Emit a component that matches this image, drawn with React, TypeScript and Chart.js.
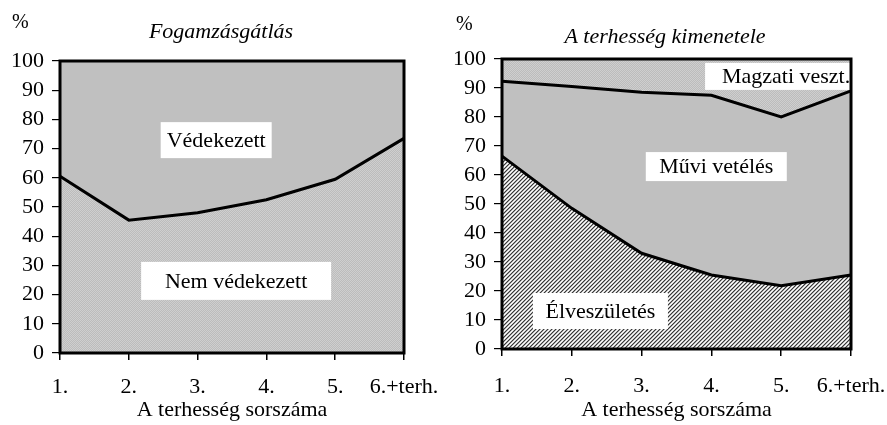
import React, { useEffect, useRef } from "react";
import { Chart, registerables } from "chart.js";

Chart.register(...registerables);

// ---------- data ----------
const categories = ["1.", "2.", "3.", "4.", "5.", "6.+terh."];
const yTicks = [0, 10, 20, 30, 40, 50, 60, 70, 80, 90, 100];

// Left chart: Fogamzásgátlás (%)
const nemVedekezett = [60.5, 45.5, 48, 52.5, 59.5, 73.5];
const vedekezett = [39.5, 54.5, 52, 47.5, 40.5, 26.5];

// Right chart: A terhesség kimenetele (%)
const elveszuletes = [66.5, 48.5, 33, 25.5, 21.8, 25.5];
const muviVeteles = [25.8, 42, 55.5, 62, 58.2, 63.5];
const magzatiVeszt = [7.7, 9.5, 11.5, 12.5, 20, 11];

const FONT = "'Liberation Serif', 'Times New Roman', serif";
const FS = 22;

function makePattern(kind: "dots" | "hatch"): CanvasPattern | string {
  const c = document.createElement("canvas");
  c.width = 4;
  c.height = 4;
  const g = c.getContext("2d");
  if (!g) return "#c0c0c0";
  for (let x = 0; x < 4; x++) {
    for (let y = 0; y < 4; y++) {
      let col = "#c0c0c0";
      if (kind === "dots") {
        col = (x + y) % 2 === 0 ? "#cfcfcf" : "#bcbcbc";
      } else {
        const m = (x + y) % 4;
        col = m === 0 ? "#383838" : m === 1 ? "#a8a8a8" : m === 2 ? "#ffffff" : "#cccccc";
      }
      g.fillStyle = col;
      g.fillRect(x, y, 1, 1);
    }
  }
  const p = g.createPattern(c, "repeat");
  return p || "#c0c0c0";
}

type Note = { text: string; xi: number; yv: number; w: number; h: number };

function framePlugin(title: string, titleX: number, titleY: number, pctX: number, pctY: number, notes: Note[]) {
  return {
    id: "frameAndNotes",
    afterDatasetsDraw(chart: any) {
      const { ctx, chartArea, scales } = chart;
      ctx.save();
      ctx.beginPath();
      ctx.rect(chartArea.left, chartArea.top, chartArea.right - chartArea.left, chartArea.bottom - chartArea.top);
      ctx.clip();
      for (const n of notes) {
        const cx = scales.x.getPixelForValue(n.xi);
        const cy = scales.y.getPixelForValue(n.yv);
        ctx.fillStyle = "#ffffff";
        ctx.fillRect(cx - n.w / 2, cy - n.h / 2, n.w, n.h);
        ctx.fillStyle = "#000";
        ctx.font = `${FS}px ${FONT}`;
        ctx.textAlign = "center";
        ctx.textBaseline = "middle";
        ctx.fillText(n.text, cx, cy + 1);
      }
      ctx.restore();
      ctx.save();
      ctx.strokeStyle = "#000";
      ctx.lineWidth = 3;
      ctx.strokeRect(chartArea.left, chartArea.top, chartArea.right - chartArea.left, chartArea.bottom - chartArea.top);
      ctx.fillStyle = "#000";
      ctx.font = `italic ${FS}px ${FONT}`;
      ctx.textAlign = "center";
      ctx.textBaseline = "alphabetic";
      ctx.fillText(title, titleX, titleY);
      ctx.font = `20px ${FONT}`;
      ctx.textAlign = "left";
      ctx.fillText("%", pctX, pctY);
      ctx.restore();
    },
  };
}

function makeOptions(padTop: number, padRight: number, yWidth: number, xHeight: number, xPad: number) {
  return {
    responsive: false,
    animation: false as const,
    events: [],
    layout: { padding: { top: padTop, right: padRight, left: 0, bottom: 0 } },
    plugins: { legend: { display: false }, tooltip: { enabled: false }, title: { display: false } },
    elements: { point: { radius: 0 }, line: { tension: 0 } },
    scales: {
      x: {
        type: "category",
        offset: false,
        grid: { drawOnChartArea: false, drawTicks: true, tickLength: 7, color: "#000", lineWidth: 1.5 },
        border: { display: false },
        ticks: { color: "#000", font: { family: FONT, size: FS }, padding: xPad, maxRotation: 0, autoSkip: false },
        title: { display: true, text: "A terhesség sorszáma", color: "#000", font: { family: FONT, size: FS }, padding: { top: 0, bottom: 2 } },
        afterFit: (s: any) => {
          s.height = xHeight;
          s.paddingLeft = 0;
          s.paddingRight = 0;
        },
      },
      y: {
        stacked: true,
        min: 0,
        max: 100,
        afterBuildTicks: (s: any) => {
          s.ticks = yTicks.map((v) => ({ value: v }));
        },
        grid: { drawOnChartArea: false, drawTicks: true, tickLength: 8, color: "#000", lineWidth: 1.2 },
        border: { display: false },
        ticks: { color: "#000", font: { family: FONT, size: FS }, padding: 8, autoSkip: false },
        afterFit: (s: any) => {
          s.width = yWidth;
          s.paddingTop = 0;
          s.paddingBottom = 0;
        },
      },
    },
  };
}

function LeftChart() {
  const ref = useRef<HTMLCanvasElement | null>(null);
  useEffect(() => {
    if (!ref.current) return;
    const dots = makePattern("dots");
    const chart = new Chart(ref.current, {
      type: "line",
      data: {
        labels: categories,
        datasets: [
          { label: "Nem védekezett", data: nemVedekezett, borderColor: "#000", borderWidth: 3, backgroundColor: dots as any, fill: "origin" },
          { label: "Védekezett", data: vedekezett, borderColor: "rgba(0,0,0,0)", borderWidth: 0, backgroundColor: "#c0c0c0", fill: "-1" },
        ],
      },
      options: makeOptions(61, 36, 60, 72, 14) as any,
      plugins: [
        framePlugin("Fogamzásgátlás", 221, 38, 12, 28, [
          { text: "Védekezett", xi: 2.27, yv: 72.9, w: 111, h: 36 },
          { text: "Nem védekezett", xi: 2.56, yv: 24.7, w: 190, h: 38 },
        ]),
      ],
    });
    return () => chart.destroy();
  }, []);
  return <canvas ref={ref} width={440} height={425} style={{ position: "absolute", left: 0, top: 0, width: 440, height: 425 }} />;
}

function RightChart() {
  const ref = useRef<HTMLCanvasElement | null>(null);
  useEffect(() => {
    if (!ref.current) return;
    const dots = makePattern("dots");
    const hatch = makePattern("hatch");
    const chart = new Chart(ref.current, {
      type: "line",
      data: {
        labels: categories,
        datasets: [
          { label: "Élveszületés", data: elveszuletes, borderColor: "#000", borderWidth: 3, backgroundColor: hatch as any, fill: "origin" },
          { label: "Művi vetélés", data: muviVeteles, borderColor: "#000", borderWidth: 3, backgroundColor: "#c0c0c0", fill: "-1" },
          { label: "Magzati veszt.", data: magzatiVeszt, borderColor: "rgba(0,0,0,0)", borderWidth: 0, backgroundColor: dots as any, fill: "-1" },
        ],
      },
      options: makeOptions(59, 36, 62, 76, 17) as any,
      plugins: [
        framePlugin("A terhesség kimenetele", 225, 43, 16, 30, [
          { text: "Magzati veszt.", xi: 4.07, yv: 94.0, w: 162, h: 27 },
          { text: "Művi vetélés", xi: 3.07, yv: 62.9, w: 141, h: 29 },
          { text: "Élveszületés", xi: 1.41, yv: 13.1, w: 135, h: 36 },
        ]),
      ],
    });
    return () => chart.destroy();
  }, []);
  return <canvas ref={ref} width={447} height={425} style={{ position: "absolute", left: 440, top: 0, width: 447, height: 425 }} />;
}

export default function App() {
  return (
    <div style={{ position: "absolute", left: 0, top: 0, width: 887, height: 425, background: "#fff", overflow: "hidden" }}>
      <LeftChart />
      <RightChart />
    </div>
  );
}
